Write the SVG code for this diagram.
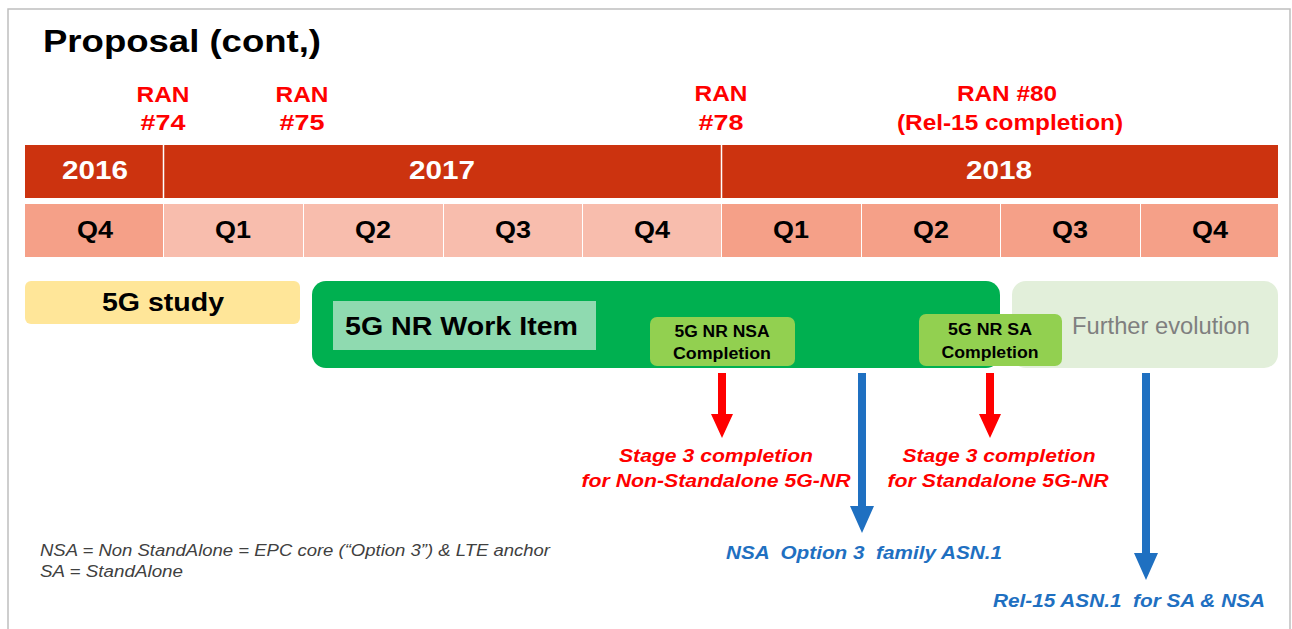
<svg xmlns="http://www.w3.org/2000/svg" width="1292" height="629" viewBox="0 0 1292 629">
  <style>
    text { font-family: "Liberation Sans", Arial, sans-serif; }
    .title { font-size: 32px; font-weight: bold; fill: #000; }
    .ran { font-size: 22px; font-weight: bold; fill: #FF0000; text-anchor: middle; }
    .year { font-size: 25px; font-weight: bold; fill: #fff; text-anchor: middle; }
    .q { font-size: 23px; font-weight: bold; fill: #000; text-anchor: middle; }
    .yearbar { fill: #CC330F; }
    .qdark { fill: #F5A088; }
    .qlight { fill: #F8BDAD; }
    .sep { stroke: #fff; stroke-width: 1.5; }
    .lbl { font-size: 26px; font-weight: bold; fill: #000; }
    .comp { font-size: 16px; font-weight: bold; fill: #000; text-anchor: middle; }
    .red { font-size: 19px; font-weight: bold; font-style: italic; fill: #FF0000; text-anchor: middle; }
    .blue { font-size: 19px; font-weight: bold; font-style: italic; fill: #1F70C1; }
    .note { font-size: 16px; font-style: italic; fill: #404040; }
    .arrow-red { fill: #FF0000; }
    .arrow-blue { fill: #1F70C1; }
  </style>

  <rect x="0" y="0" width="1292" height="629" fill="#fff"/>
  <!-- slide frame -->
  <path d="M8 629 V9 H1290 V629" fill="none" stroke="#BFBFBF" stroke-width="1.5"/>

  <text class="title" x="43" y="52" textLength="278" lengthAdjust="spacingAndGlyphs">Proposal (cont,)</text>

  <!-- meeting markers -->
  <g id="ran74"><text class="ran" x="163" y="102" textLength="53" lengthAdjust="spacingAndGlyphs">RAN</text><text class="ran" x="163" y="130" textLength="45" lengthAdjust="spacingAndGlyphs">#74</text></g>
  <g id="ran75"><text class="ran" x="302" y="102" textLength="53" lengthAdjust="spacingAndGlyphs">RAN</text><text class="ran" x="302" y="130" textLength="45" lengthAdjust="spacingAndGlyphs">#75</text></g>
  <g id="ran78"><text class="ran" x="721" y="101" textLength="53" lengthAdjust="spacingAndGlyphs">RAN</text><text class="ran" x="721" y="130" textLength="45" lengthAdjust="spacingAndGlyphs">#78</text></g>
  <g id="ran80"><text class="ran" x="1007" y="101" textLength="100" lengthAdjust="spacingAndGlyphs">RAN #80</text><text class="ran" x="1010" y="130" textLength="226" lengthAdjust="spacingAndGlyphs">(Rel-15 completion)</text></g>

  <!-- year row -->
  <g id="years">
    <rect class="yearbar" x="25" y="145" width="1253" height="53"/>
    <line class="sep" x1="163.5" y1="145" x2="163.5" y2="198"/>
    <line class="sep" x1="721.5" y1="145" x2="721.5" y2="198"/>
    <text class="year" x="95" y="179" textLength="66" lengthAdjust="spacingAndGlyphs">2016</text>
    <text class="year" x="442" y="179" textLength="66" lengthAdjust="spacingAndGlyphs">2017</text>
    <text class="year" x="999" y="179" textLength="66" lengthAdjust="spacingAndGlyphs">2018</text>
  </g>

  <!-- quarter row -->
  <g id="quarters">
    <rect class="qdark" x="25" y="204" width="138" height="53"/>
    <rect class="qlight" x="164" y="204" width="139" height="53"/>
    <rect class="qlight" x="304" y="204" width="139" height="53"/>
    <rect class="qlight" x="444" y="204" width="138" height="53"/>
    <rect class="qlight" x="583" y="204" width="138" height="53"/>
    <rect class="qdark" x="722" y="204" width="139" height="53"/>
    <rect class="qdark" x="862" y="204" width="138" height="53"/>
    <rect class="qdark" x="1001" y="204" width="139" height="53"/>
    <rect class="qdark" x="1141" y="204" width="137" height="53"/>
    <text class="q" x="95" y="238" textLength="36" lengthAdjust="spacingAndGlyphs">Q4</text>
    <text class="q" x="233" y="238" textLength="36" lengthAdjust="spacingAndGlyphs">Q1</text>
    <text class="q" x="373" y="238" textLength="36" lengthAdjust="spacingAndGlyphs">Q2</text>
    <text class="q" x="513" y="238" textLength="36" lengthAdjust="spacingAndGlyphs">Q3</text>
    <text class="q" x="652" y="238" textLength="36" lengthAdjust="spacingAndGlyphs">Q4</text>
    <text class="q" x="791" y="238" textLength="36" lengthAdjust="spacingAndGlyphs">Q1</text>
    <text class="q" x="931" y="238" textLength="36" lengthAdjust="spacingAndGlyphs">Q2</text>
    <text class="q" x="1070" y="238" textLength="36" lengthAdjust="spacingAndGlyphs">Q3</text>
    <text class="q" x="1210" y="238" textLength="36" lengthAdjust="spacingAndGlyphs">Q4</text>
  </g>

  <g id="study">
    <rect x="25" y="281" width="275" height="43" rx="6" fill="#FFE699"/>
    <text class="lbl" x="163" y="311" text-anchor="middle" textLength="122" lengthAdjust="spacingAndGlyphs">5G study</text>
  </g>

  <g id="workitem">
    <rect x="312" y="281" width="688" height="87" rx="14" fill="#00B050"/>
    <rect x="333" y="301" width="263" height="49" fill="#8FDAB0"/>
    <text class="lbl" x="345" y="335" textLength="233" lengthAdjust="spacingAndGlyphs">5G NR Work Item</text>
  </g>

  <g id="further">
    <rect x="1012" y="281" width="266" height="87" rx="14" fill="#E2EFDA"/>
    <text x="1072" y="334" font-size="23" fill="#7F7F7F" textLength="178" lengthAdjust="spacingAndGlyphs">Further evolution</text>
  </g>

  <g id="nsa-completion">
    <rect x="650" y="317" width="145" height="49" rx="7" fill="#92D050"/>
    <text class="comp" x="722" y="337" textLength="95" lengthAdjust="spacingAndGlyphs">5G NR NSA</text>
    <text class="comp" x="722" y="359" textLength="98" lengthAdjust="spacingAndGlyphs">Completion</text>
  </g>

  <g id="sa-completion">
    <rect x="919" y="314" width="143" height="52" rx="7" fill="#92D050"/>
    <text class="comp" x="990" y="335" textLength="84" lengthAdjust="spacingAndGlyphs">5G NR SA</text>
    <text class="comp" x="990" y="358" textLength="97" lengthAdjust="spacingAndGlyphs">Completion</text>
  </g>

  <!-- connectors -->
  <g id="connectors">
    <polygon class="arrow-red" points="718,373 726,373 726,414 733,414 722,438 711,414 718,414"/>
    <polygon class="arrow-red" points="986,373 994,373 994,414 1001,414 990,438 979,414 986,414"/>
    <polygon class="arrow-blue" points="858,373 866,373 866,506 874,506 862,533 850,506 858,506"/>
    <polygon class="arrow-blue" points="1142,373 1150,373 1150,553 1158,553 1146,580 1134,553 1142,553"/>
  </g>

  <g id="nsa-stage3">
    <text class="red" x="716" y="462" textLength="194" lengthAdjust="spacingAndGlyphs">Stage 3 completion</text>
    <text class="red" x="716" y="487" textLength="269" lengthAdjust="spacingAndGlyphs">for Non-Standalone 5G-NR</text>
  </g>
  <g id="sa-stage3">
    <text class="red" x="999" y="462" textLength="193" lengthAdjust="spacingAndGlyphs">Stage 3 completion</text>
    <text class="red" x="998" y="487" textLength="221" lengthAdjust="spacingAndGlyphs">for Standalone 5G-NR</text>
  </g>

  <g id="nsa-asn1"><text class="blue" x="726" y="559" xml:space="preserve" textLength="276" lengthAdjust="spacingAndGlyphs">NSA  Option 3  family ASN.1</text></g>
  <g id="rel15-asn1"><text class="blue" x="993" y="607" xml:space="preserve" textLength="272" lengthAdjust="spacingAndGlyphs">Rel-15 ASN.1  for SA &amp; NSA</text></g>

  <g id="legend">
    <text class="note" x="40" y="556" textLength="510" lengthAdjust="spacingAndGlyphs">NSA = Non StandAlone = EPC core (“Option 3”) &amp; LTE anchor</text>
    <text class="note" x="40" y="577" textLength="143" lengthAdjust="spacingAndGlyphs">SA = StandAlone</text>
  </g>
</svg>
